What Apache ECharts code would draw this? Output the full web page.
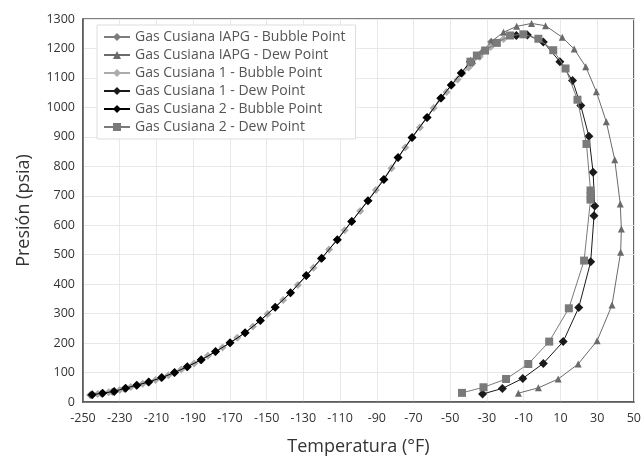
<!DOCTYPE html>
<html>
<head>
<meta charset="utf-8">
<script src="https://cdn.jsdelivr.net/npm/echarts@6/dist/echarts.min.js"></script>
<style>html,body{margin:0;padding:0;background:#fff}#c{width:644px;height:461px}</style>
</head>
<body>
<div id="c"></div>
<script>
const xTicks = [-250,-230,-210,-190,-170,-150,-130,-110,-90,-70,-50,-30,-10,10,30,50];
const yTicks = [0,100,200,300,400,500,600,700,800,900,1000,1100,1200,1300];

const iapgBubble = [[-246,24],[-240,29],[-234,35],[-227.5,45],[-221,56],[-214.5,67],[-207.5,82],[-200.5,99],[-193.5,119],[-186,142],[-178,170],[-170,200],[-162,234],[-153.5,276],[-145.5,321],[-137,370],[-128.5,428],[-120.5,486],[-111.5,550],[-103.5,614],[-95,683],[-86.5,755],[-78.5,829],[-71,897],[-63,965],[-55.5,1030],[-49.5,1075],[-43.5,1115],[-38,1150],[-33,1185],[-27.7,1223]];
const iapgDew = [[-27.7,1223],[-21,1255],[-13.8,1275],[-5.7,1285],[1.9,1277],[11,1238],[17.5,1198],[23.8,1138],[29.6,1053],[35,951],[39.6,822],[42.6,672],[43.2,587],[42.8,508],[38.1,329],[30,208],[19.7,129],[8.8,78],[-2,48],[-12.9,30]];
const c1Bubble = [[-242,27],[-236,33],[-230,41],[-224,51],[-217.5,62],[-210.5,75],[-203.5,91],[-196.5,110],[-189.5,131],[-182,157],[-174,185],[-166,218],[-157.5,256],[-149.5,299],[-141,346],[-133,397],[-124.5,456],[-116,518],[-107.5,583],[-99,648],[-90.5,720],[-82,793],[-74.5,864],[-66.5,932],[-59,998],[-52,1052],[-46,1095],[-40,1135],[-34,1172],[-28,1205],[-21,1232],[-14,1244]];
const c1Dew = [[-14,1244],[-8,1246],[0.7,1222],[9.7,1155],[16.6,1091],[21.1,1006],[25.5,902],[27.8,780],[28.7,665],[28.3,632],[26.5,476],[20,321],[11.5,205],[0.7,131],[-10.5,80],[-21.6,46],[-32.4,27]];
const c2Bubble = [[-245,25],[-239.3,30],[-233,36],[-226.8,47],[-220.7,57],[-214.2,68],[-207.1,83],[-200.1,100],[-193.2,120],[-185.6,143],[-177.8,171],[-169.9,201],[-161.7,235],[-153.4,277],[-145.3,322],[-137,371],[-128.4,429],[-120,488],[-111.5,551],[-103.7,613],[-94.8,683],[-86.1,755],[-78.4,830],[-70.8,898],[-62.6,966],[-55,1032],[-49.4,1076],[-44,1117],[-39,1155]];
const c2Dew = [[-39,1155],[-35.5,1176],[-31,1193],[-24.6,1219],[-17.4,1244],[-10.2,1248],[-2,1233],[6.1,1194],[12.8,1132],[19.3,1026],[24.2,876],[26.4,718],[26.5,700],[26.4,687],[22.9,480],[14.6,318],[3.9,205],[-7.5,129],[-19.6,78],[-31.9,50],[-43.6,31]];

const names = ['Gas Cusiana IAPG - Bubble Point','Gas Cusiana IAPG - Dew Point','Gas Cusiana 1 - Bubble Point','Gas Cusiana 1 - Dew Point','Gas Cusiana 2 - Bubble Point','Gas Cusiana 2 - Dew Point'];
const datasets = [iapgBubble, iapgDew, c1Bubble, c1Dew, c2Bubble, c2Dew];
const colors = ['#7d7d7d','#6a6a6a','#ababab','#1a1a1a','#000000','#7a7a7a'];
const symbols = ['diamond','triangle','diamond','diamond','diamond','rect'];
const sizes = [8,7,8,9,9,8];
const FONT = 'Open Sans';

const chart = echarts.init(document.getElementById('c'));
chart.setOption({
  animation:false,
  textStyle:{fontFamily:FONT},
  grid:{left:83,right:8,top:19,bottom:58,show:true,borderColor:'#555',borderWidth:1.5},
  legend:{
    orient:'vertical', left:97, top:25, itemGap:4, itemWidth:26, itemHeight:10,
    backgroundColor:'#fff', borderColor:'#ddd', borderWidth:1, padding:[5,10,5,6],
    textStyle:{fontSize:14, color:'#555', fontFamily:FONT},
    data:names
  },
  xAxis:{type:'value',min:-250,max:50,interval:20,
    axisLine:{onZero:false,lineStyle:{color:'#555',width:1.5}},axisTick:{show:false},
    axisLabel:{color:'#333',fontSize:12.5,margin:10,formatter:v=>String(v)},
    splitLine:{lineStyle:{color:'#e8e8e8'}},
    name:'Temperatura (°F)',nameLocation:'middle',nameGap:36,
    nameTextStyle:{fontSize:18,color:'#333'}},
  yAxis:{type:'value',min:0,max:1300,interval:100,
    axisLine:{show:true,onZero:false,lineStyle:{color:'#555',width:1.5}},axisTick:{show:false},
    axisLabel:{color:'#333',fontSize:12.5,margin:8,formatter:v=>String(v)},
    splitLine:{lineStyle:{color:'#e8e8e8'}},
    name:'Presión (psia)',nameLocation:'middle',nameGap:50,
    nameTextStyle:{fontSize:18,color:'#333'}},
  series: datasets.map((d,i)=>({
    name:names[i], type:'line', data:d, symbol:symbols[i], symbolSize:sizes[i],
    lineStyle:{color:colors[i],width:1}, itemStyle:{color:colors[i]}, z:2+i
  }))
});
</script>
</body>
</html>
